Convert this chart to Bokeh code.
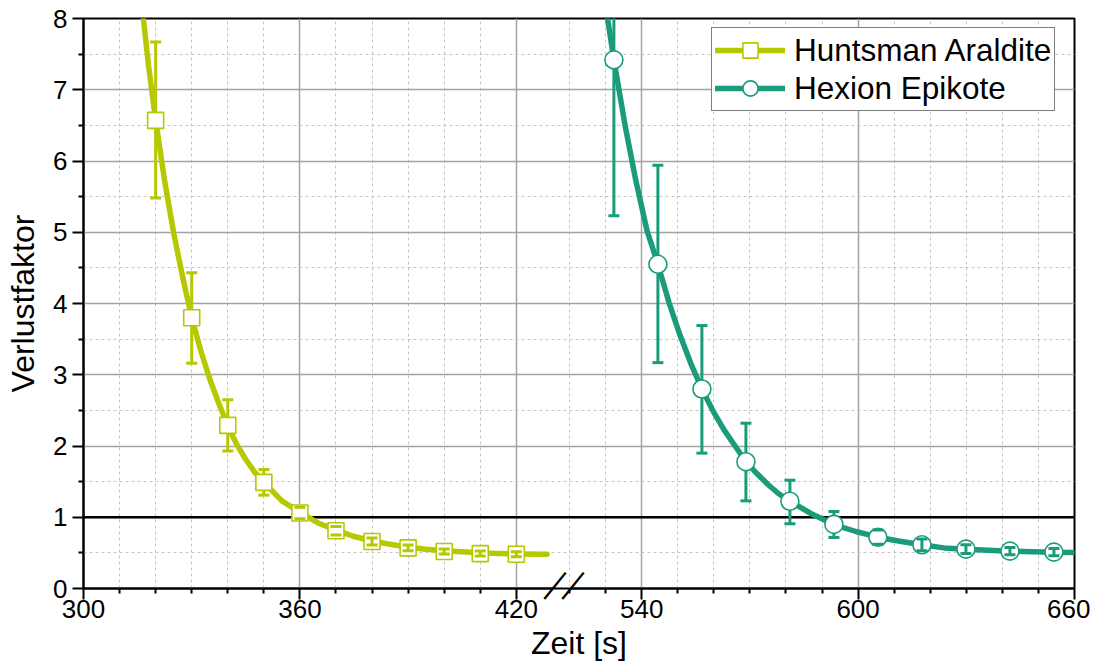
from bokeh.plotting import figure
from bokeh.models import FixedTicker, Span, Legend, LegendItem, LinearAxis
from bokeh.embed import file_html
from bokeh.resources import INLINE
import math

# ---------------- data ----------------
hunt_t = [320, 330, 340, 350, 360, 370, 380, 390, 400, 410, 420]
hunt_y = [6.57, 3.80, 2.29, 1.49, 1.06, 0.81, 0.66, 0.57, 0.52, 0.49, 0.48]
hunt_lo = [5.48, 3.16, 1.93, 1.31, 0.98, 0.75, 0.61, 0.53, 0.485, 0.455, 0.445]
hunt_hi = [7.67, 4.43, 2.65, 1.67, 1.14, 0.87, 0.71, 0.61, 0.555, 0.525, 0.515]

hunt_fit_t = [315, 316.6, 318, 320, 322.5, 325, 327.5, 330, 332.5, 335, 337.5, 340,
              342.5, 345, 347.5, 350, 355, 360, 365, 370, 375, 380, 385, 390,
              395, 400, 405, 410, 415, 420, 428.5]
hunt_fit_y = [8.70, 8.00, 7.35, 6.57, 5.72, 4.99, 4.37, 3.80, 3.34, 2.94, 2.60, 2.28,
              2.02, 1.81, 1.63, 1.49, 1.23, 1.07, 0.92, 0.82, 0.73, 0.67, 0.62, 0.58,
              0.55, 0.53, 0.515, 0.50, 0.49, 0.485, 0.48]

hex_t = [532.3, 544.5, 556.7, 568.9, 581.1, 593.3, 605.5, 617.7, 629.9, 642.1, 654.3]
hex_y = [7.42, 4.55, 2.80, 1.78, 1.225, 0.90, 0.72, 0.613, 0.552, 0.524, 0.51]
hex_lo = [5.23, 3.17, 1.90, 1.23, 0.91, 0.717, 0.62, 0.53, 0.49, 0.475, 0.46]
hex_hi = [9.61, 5.94, 3.69, 2.32, 1.52, 1.08, 0.82, 0.695, 0.615, 0.575, 0.56]

hex_fit_t = [528.5, 530.7, 532.3, 535.4, 538.4, 541.5, 544.5, 547.6, 550.6, 553.7, 556.7,
             559.8, 562.8, 565.9, 568.9, 572.0, 575.0, 578.0, 581.1, 587.2, 593.3,
             599.4, 605.5, 611.6, 617.7, 623.8, 629.9, 636.0, 642.1, 648.2, 654.3, 660]
hex_fit_y = [8.60, 7.95, 7.42, 6.50, 5.72, 5.02, 4.55, 4.01, 3.56, 3.15, 2.80,
             2.49, 2.23, 2.00, 1.78, 1.61, 1.46, 1.33, 1.225, 1.045, 0.898,
             0.80, 0.72, 0.664, 0.613, 0.57, 0.552, 0.536, 0.524, 0.516, 0.51, 0.505]

x_major = [300, 360, 420, 540, 600, 660]
x_minor = [310, 320, 330, 340, 350, 370, 380, 390, 400, 410,
           520, 530, 550, 560, 570, 580, 590, 610, 620, 630, 640, 650]
y_major = [0, 1, 2, 3, 4, 5, 6, 7, 8]
y_minor = [0.5, 1.5, 2.5, 3.5, 4.5, 5.5, 6.5, 7.5]

series_names = ["Huntsman Araldite", "Hexion Epikote"]

# ---------------- broken x axis: 300..430 | 520..660 ----------------
LEFT_END, RIGHT_START, GAP = 430.0, 520.0, 4.75


def bx(t):
    """map real time [s] to the compressed (broken) axis coordinate"""
    return t if t <= (LEFT_END + RIGHT_START) / 2 else t - RIGHT_START + LEFT_END + GAP


def bxs(ts):
    return [bx(t) for t in ts]


GREEN = "#b5c800"
TEAL = "#1a9c7a"
FONT = "Liberation Sans"
FRAME_H = 570

p = figure(frame_width=991, frame_height=FRAME_H,
           min_border_left=83, min_border_right=16, min_border_top=18, min_border_bottom=78,
           x_range=(300, bx(660)), y_range=(0, 8),
           output_backend="svg", toolbar_location=None)
p.background_fill_color = "white"
p.border_fill_color = "white"
p.outline_line_color = "black"
p.outline_line_width = 2

# axes
main_x = p.xaxis[0]
main_x.ticker = FixedTicker(ticks=bxs(x_major), minor_ticks=bxs(x_minor))
main_x.major_label_overrides = {bx(t): str(t) for t in x_major}
p.yaxis.ticker = FixedTicker(ticks=y_major, minor_ticks=y_minor)
for ax in (main_x, p.yaxis[0]):
    ax.axis_line_width = 2
    ax.axis_line_color = "black"
    ax.major_tick_line_width = 2
    ax.minor_tick_line_width = 2
    ax.major_tick_out = 11
    ax.major_tick_in = 0
    ax.minor_tick_out = 5
    ax.minor_tick_in = 0
    ax.major_label_text_font = FONT
    ax.major_label_text_font_size = "26px"
    ax.major_label_text_color = "black"
    ax.axis_label_text_font = FONT
    ax.axis_label_text_font_size = "32px"
    ax.axis_label_text_font_style = "normal"
    ax.axis_label_text_color = "black"
main_x.axis_label = "Zeit [s]"
p.yaxis.axis_label = "Verlustfaktor"
main_x.major_label_standoff = 0
main_x.axis_label_standoff = 4
main_x.axis_line_color = None          # the line is drawn in two pieces below
p.yaxis.major_label_standoff = 5
p.yaxis.axis_label_standoff = 9

# grids
for g in (p.xgrid[0], p.ygrid[0]):
    g.grid_line_color = "#a3a3a3"
    g.grid_line_width = 1.5
    g.minor_grid_line_color = "#c4c4c4"
    g.minor_grid_line_width = 1
    g.minor_grid_line_dash = "3 3"

# reference line at 1
p.add_layout(Span(location=1, dimension="width", line_color="black", line_width=2.5, level="underlay"))

renderers = []
for t, y, lo, hi, ft, fy, col, mk, sz, small in [
    (hunt_t, hunt_y, hunt_lo, hunt_hi, hunt_fit_t, hunt_fit_y, GREEN, "square", 16, 0.05),
    (hex_t, hex_y, hex_lo, hex_hi, hex_fit_t, hex_fit_y, TEAL, "circle", 18, 0.09),
]:
    xs = bxs(t)
    big = [i for i in range(len(t)) if (hi[i] - lo[i]) / 2 > small]
    sml = [i for i in range(len(t)) if (hi[i] - lo[i]) / 2 <= small]
    ln = p.line(bxs(ft), fy, line_color=col, line_width=5.5, line_join="round", line_cap="round")
    # stems of large error bars sit under the markers
    p.segment(x0=[xs[i] for i in big], y0=[lo[i] for i in big],
              x1=[xs[i] for i in big], y1=[hi[i] for i in big], line_color=col, line_width=3)
    sc = p.scatter(xs, y, marker=mk, size=sz, fill_color="white", line_color=col, line_width=1.6)
    # stems of small error bars are visible inside the markers
    p.segment(x0=[xs[i] for i in sml], y0=[lo[i] for i in sml],
              x1=[xs[i] for i in sml], y1=[hi[i] for i in sml], line_color=col, line_width=3)
    p.scatter(xs + xs, lo + hi, marker="dash", size=11, line_color=col, line_width=3)
    renderers.append((ln, sc))

legend = Legend(items=[LegendItem(label=series_names[i], renderers=list(renderers[i])) for i in range(2)],
                location=(628, FRAME_H - 11 - 82), orientation="vertical")
legend.label_text_font = FONT
legend.label_text_font_size = "31.5px"
legend.label_text_color = "black"
legend.glyph_width = 70
legend.glyph_height = 38
legend.label_height = 38
legend.label_standoff = 9
legend.spacing = 0
legend.padding = 3
legend.margin = 0
legend.border_line_color = "black"
legend.border_line_width = 1
legend.background_fill_color = "white"
legend.background_fill_alpha = 1
p.add_layout(legend)

# ---------------- axis break ----------------
BRK_L, BRK_R = 430.0, 435.0          # centres of the two slashes (axis units)
SLASH_ANGLE = math.radians(51)
half_px = 17 * math.cos(SLASH_ANGLE) / 3.608    # half slash, in axis units


def line_piece(lo, hi):
    return LinearAxis(bounds=(lo, hi), ticker=FixedTicker(ticks=[], minor_ticks=[]),
                      axis_line_color="black", axis_line_width=2,
                      major_tick_out=0, major_tick_in=0, minor_tick_out=0, minor_tick_in=0,
                      major_label_standoff=0, major_tick_line_color=None, minor_tick_line_color=None)


piece_l = line_piece(300, BRK_L)
piece_r = line_piece(BRK_R, bx(660))
slashes = LinearAxis(ticker=FixedTicker(ticks=[BRK_L + half_px, BRK_R + half_px], minor_ticks=[]),
                     major_label_overrides={BRK_L + half_px: "\u2014", BRK_R + half_px: "\u2014"},
                     axis_line_color=None, major_tick_line_color=None, minor_tick_line_color=None,
                     major_tick_out=0, major_tick_in=0, minor_tick_out=0, minor_tick_in=0,
                     major_label_orientation=SLASH_ANGLE, major_label_standoff=-93,
                     major_label_text_font=FONT, major_label_text_font_size="34px",
                     major_label_text_color="black")
p.below = [piece_l, piece_r, main_x, slashes]

open("out.html", "w").write(file_html(p, INLINE))
